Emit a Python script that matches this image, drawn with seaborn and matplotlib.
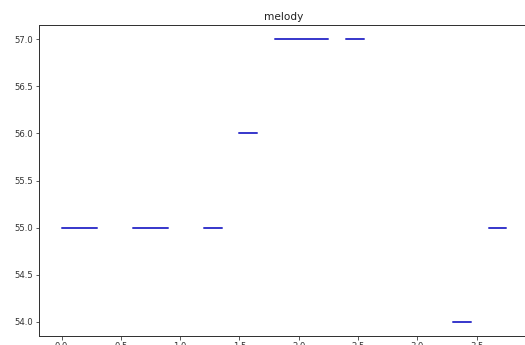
import matplotlib
matplotlib.use("Agg")
import matplotlib.pyplot as plt
import numpy as np
import pandas as pd
import seaborn as sns

# Note events: onset time, offset time and MIDI pitch
note_starts = [0.0, 0.6, 1.2, 1.5, 1.8, 2.4, 3.3, 3.6]
note_ends = [0.3, 0.9, 1.35, 1.65, 2.25, 2.55, 3.45, 3.75]
note_pitches = [55, 55, 55, 56, 57, 57, 54, 55]

y_ticks = [54.0, 54.5, 55.0, 55.5, 56.0, 56.5, 57.0]
x_ticks = [0.0, 0.5, 1.0, 1.5, 2.0, 2.5, 3.0, 3.5]

# Long-form table: one row per segment endpoint, one unit per note
rows = []
for i, (s, e, p) in enumerate(zip(note_starts, note_ends, note_pitches)):
    rows.append({"note": i, "time": s, "pitch": p})
    rows.append({"note": i, "time": e, "pitch": p})
df = pd.DataFrame(rows)

sns.set_style("white")
plt.rcParams["font.family"] = ["DejaVu Sans"]

dpi = 72
fig = plt.figure(figsize=(525 / dpi, 345 / dpi), dpi=dpi)
ax = fig.add_axes([0.0749, 0.0261, 0.932, 0.9014])

sns.lineplot(data=df, x="time", y="pitch", units="note", estimator=None,
             color="#3b3bcc", linewidth=2, ax=ax)

ax.set_xlim(-0.1875, 3.9375)
ax.set_ylim(53.85, 57.15)
ax.set_xticks(x_ticks)
ax.set_yticks(y_ticks)
ax.set_xticklabels([f"{v:.1f}" for v in x_ticks])
ax.set_yticklabels([f"{v:.1f}" for v in y_ticks])
ax.set_xlabel("")
ax.set_ylabel("")
ax.set_title("melody", fontsize=10.5, color="#222222", pad=5)

ax.tick_params(axis="both", which="major", direction="out", length=3.5,
               width=0.8, color="#333333", labelsize=8.5, labelcolor="#333333",
               bottom=True, left=True, pad=3)
for side in ax.spines.values():
    side.set_color("#333333")
    side.set_linewidth(1.0)

fig.savefig("out.png", dpi=dpi)
